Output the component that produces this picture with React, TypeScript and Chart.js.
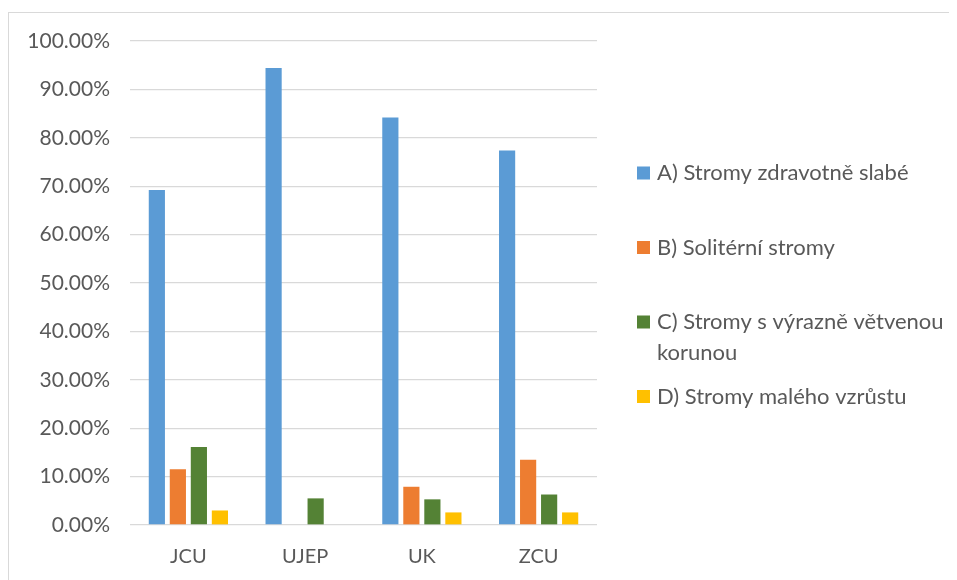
import React, { useEffect, useRef } from "react";
import { Chart, registerables } from "chart.js";
Chart.register(...registerables);

const categories = ["JCU", "UJEP", "UK", "ZCU"];
const seriesA = [69.2, 94.4, 84.2, 77.4];
const seriesB = [11.5, 0, 7.9, 13.5];
const seriesC = [16.1, 5.5, 5.3, 6.3];
const seriesD = [3.0, 0, 2.6, 2.6];
const seriesLabels = [
  "A) Stromy zdravotně slabé",
  "B) Solitérní stromy",
  "C) Stromy s výrazně větvenou korunou",
  "D) Stromy malého vzrůstu",
];
const seriesColors = ["#5B9BD5", "#ED7D31", "#548235", "#FFC000"];
const yMin = 0;
const yMax = 100;
const yStep = 10;

const FONT = "Lato";
const TEXT = "#595959";

function wrap(ctx: CanvasRenderingContext2D, text: string, maxW: number): string[] {
  const words = text.split(" ");
  const lines: string[] = [];
  let cur = "";
  for (const w of words) {
    const t = cur ? cur + " " + w : w;
    if (ctx.measureText(t).width > maxW && cur) {
      lines.push(cur);
      cur = w;
    } else cur = t;
  }
  if (cur) lines.push(cur);
  return lines;
}

const sideLegend = {
  id: "sideLegend",
  afterDraw(chart: any) {
    const ctx: CanvasRenderingContext2D = chart.ctx;
    const area = chart.chartArea;
    const sqX = area.right + 40;
    const sq = 13;
    const textX = sqX + 20;
    const startY = 160;
    const itemStep = 74.5;
    const lineH = 31;
    ctx.save();
    ctx.font = `22px ${FONT}`;
    ctx.textBaseline = "middle";
    ctx.textAlign = "left";
    chart.data.datasets.forEach((ds: any, i: number) => {
      const cy = startY + i * itemStep;
      ctx.fillStyle = ds.backgroundColor;
      ctx.fillRect(sqX, cy - sq / 2, sq, sq);
      ctx.fillStyle = TEXT;
      const lines = wrap(ctx, ds.label, 300);
      lines.forEach((ln, k) => ctx.fillText(ln, textX, cy + k * lineH));
    });
    ctx.restore();
  },
};

export default function App() {
  const ref = useRef<HTMLCanvasElement>(null);
  useEffect(() => {
    document.body.style.overflow = "hidden";
    const series = [seriesA, seriesB, seriesC, seriesD];
    const chart = new Chart(ref.current!, {
      type: "bar",
      data: {
        labels: categories,
        datasets: series.map((d, i) => ({
          label: seriesLabels[i],
          data: d,
          backgroundColor: seriesColors[i],
          borderWidth: 0,
          categoryPercentage: 0.72,
          barPercentage: 0.77,
        })),
      },
      options: {
        animation: false,
        responsive: true,
        maintainAspectRatio: false,
        layout: { padding: { left: 20, right: 366, top: 28, bottom: 0 } },
        plugins: { legend: { display: false }, tooltip: { enabled: false } },
        scales: {
          x: {
            grid: { display: false, drawTicks: false },
            border: { display: false },
            ticks: { color: TEXT, font: { family: FONT, size: 20 }, padding: 20 },
            afterFit: (s: any) => {
              s.height = 62;
            },
          },
          y: {
            min: yMin,
            max: yMax,
            grid: {
              color: "#d9d9d9",
              lineWidth: 1.3,
              drawTicks: true,
              tickLength: 16,
              tickColor: "rgba(0,0,0,0)",
            },
            border: { display: false },
            ticks: {
              stepSize: yStep,
              color: TEXT,
              font: { family: FONT, size: 21 },
              padding: 4,
              callback: (v: any) => Number(v).toFixed(2) + "%",
            },
            afterFit: (s: any) => {
              s.width = 101;
            },
          },
        },
      },
      plugins: [sideLegend],
    });
    return () => chart.destroy();
  }, []);
  return (
    <div
      style={{
        position: "relative",
        top: 4,
        width: 955,
        height: 575,
        boxSizing: "border-box",
        borderLeft: "1px solid #d9d9d9",
        borderTop: "1px solid #d9d9d9",
        background: "#fff",
      }}
    >
      <canvas ref={ref} />
    </div>
  );
}
